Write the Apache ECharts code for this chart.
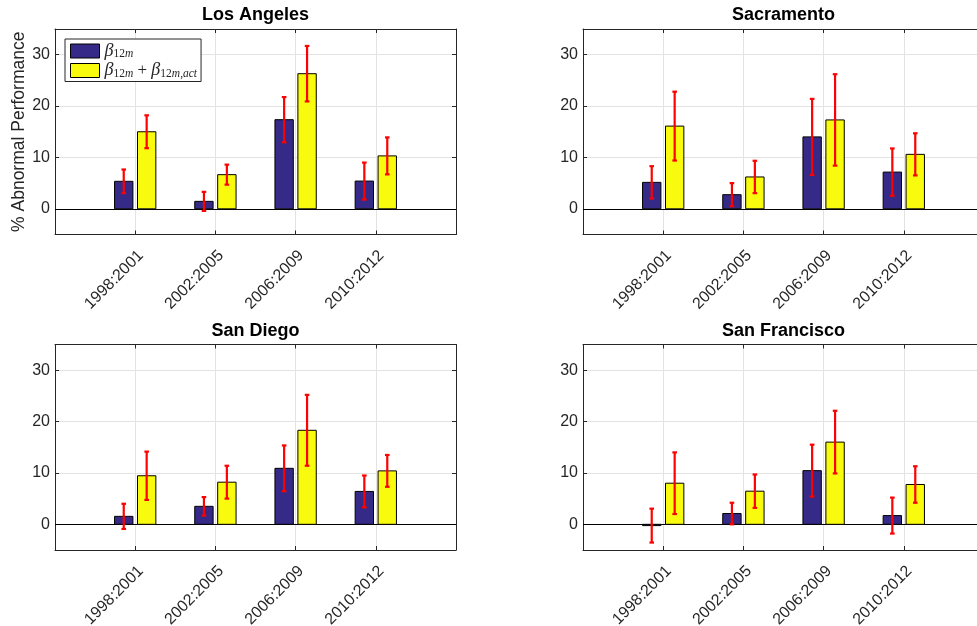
<!DOCTYPE html>
<html><head><meta charset="utf-8">
<script src="https://cdn.jsdelivr.net/npm/echarts@6/dist/echarts.min.js"></script>
<style>html,body{margin:0;padding:0;background:#fff}#c{width:977px;height:626px}</style>
</head><body><div id="c"></div>
<script>
// ---- data ----
const categories = ['1998:2001', '2002:2005', '2006:2009', '2010:2012'];
const cities = ['Los Angeles', 'Sacramento', 'San Diego', 'San Francisco'];
const yTicks = [0, 10, 20, 30];
const seriesNames = ['b12m', 'b12mAct'];

const laBeta       = [5.35, 1.45, 17.35, 5.4];
const laBetaErr    = [2.3, 1.85, 4.4, 3.6];
const laBetaAct    = [15.0, 6.65, 26.3, 10.3];
const laBetaActErr = [3.2, 1.95, 5.4, 3.6];

const sacBeta       = [5.15, 2.75, 14.0, 7.15];
const sacBetaErr    = [3.15, 2.25, 7.4, 4.6];
const sacBetaAct    = [16.1, 6.2, 17.3, 10.6];
const sacBetaActErr = [6.7, 3.15, 8.9, 4.1];

const sdBeta       = [1.55, 3.5, 10.9, 6.4];
const sdBetaErr    = [2.45, 1.8, 4.45, 3.1];
const sdBetaAct    = [9.45, 8.2, 18.3, 10.4];
const sdBetaActErr = [4.7, 3.2, 6.9, 3.1];

const sfBeta       = [-0.25, 2.1, 10.45, 1.7];
const sfBetaErr    = [3.3, 2.1, 5.05, 3.5];
const sfBetaAct    = [8.0, 6.45, 16.0, 7.75];
const sfBetaActErr = [6.0, 3.25, 6.1, 3.55];

const panels = [
  [laBeta, laBetaErr, laBetaAct, laBetaActErr],
  [sacBeta, sacBetaErr, sacBetaAct, sacBetaActErr],
  [sdBeta, sdBetaErr, sdBetaAct, sdBetaActErr],
  [sfBeta, sfBetaErr, sfBetaAct, sfBetaActErr]
];

// ---- styling / layout ----
const BLUE = '#352a87', YELLOW = '#f9fb0e', AX = '#262626', GRIDC = '#e3e3e3';
const FONT = 'Liberation Sans, Arial, sans-serif';
const gridPos = [
  {left: 55, top: 29},
  {left: 583, top: 29},
  {left: 55, top: 344.5},
  {left: 583, top: 344.5}
];
const GW = 401, GH = 205.5;
const OFF = 0.143, BW = 0.229;
const catIdx = categories.map((c, i) => i + 1);

const chart = echarts.init(document.getElementById('c'), null, {renderer: 'canvas'});

const grids = [], xAxes = [], yAxes = [], series = [], titles = [];
gridPos.forEach((g, k) => {
  grids.push({left: g.left, top: g.top, width: GW, height: GH, containLabel: false,
    outerBoundsMode: 'none', show: false});
  titles.push({text: cities[k], left: g.left + GW / 2, top: g.top - 22.5, textAlign: 'center', padding: 0,
    textStyle: {fontFamily: FONT, fontWeight: 'bold', fontSize: 18, color: '#000'}});
  // bottom x axis
  xAxes.push({type: 'value', gridIndex: k, min: 0, max: 5, position: 'bottom',
    axisLine: {show: true, onZero: false, lineStyle: {color: AX, width: 1}},
    axisTick: {show: true, inside: true, length: 4, customValues: catIdx, lineStyle: {color: AX}},
    axisLabel: {show: true, customValues: catIdx, rotate: 45, margin: 13, verticalAlign: 'top',
      formatter: v => categories[Math.round(v) - 1] || '',
      fontFamily: FONT, fontSize: 16, color: AX},
    splitLine: {show: true, lineStyle: {color: GRIDC, width: 1}}});
  // top x axis (box)
  xAxes.push({type: 'value', gridIndex: k, min: 0, max: 5, position: 'top',
    axisLine: {show: true, onZero: false, lineStyle: {color: AX, width: 1}},
    axisTick: {show: true, inside: true, length: 4, customValues: catIdx, lineStyle: {color: AX}},
    axisLabel: {show: false}, splitLine: {show: false}});
  // left y axis
  yAxes.push({type: 'value', gridIndex: k, min: -5, max: 35, position: 'left',
    name: k === 0 ? '% Abnormal Performance' : '', nameLocation: 'middle', nameGap: 27,
    nameTextStyle: {fontFamily: FONT, fontSize: 17.5, color: AX},
    axisLine: {show: true, onZero: false, lineStyle: {color: AX, width: 1}},
    axisTick: {show: true, inside: true, length: 4, customValues: yTicks, lineStyle: {color: AX}},
    axisLabel: {show: true, customValues: yTicks, margin: 5, fontFamily: FONT, fontSize: 16, color: AX},
    splitLine: {show: true, lineStyle: {color: GRIDC, width: 1}}});
  // right y axis (box)
  yAxes.push({type: 'value', gridIndex: k, min: -5, max: 35, position: 'right',
    axisLine: {show: true, onZero: false, lineStyle: {color: AX, width: 1}},
    axisTick: {show: true, inside: true, length: 4, customValues: yTicks, lineStyle: {color: AX}},
    axisLabel: {show: false}, splitLine: {show: false}});

  const [b, be, a, ae] = panels[k];
  const groups = [[b, be, -OFF, BLUE, seriesNames[0]], [a, ae, OFF, YELLOW, seriesNames[1]]];
  groups.forEach(([vals, errs, off, col, nm], gi) => {
    const data = catIdx.map((x, i) => [x, vals[i], errs[i]]);
    series.push({
      type: 'custom', name: nm, xAxisIndex: 2 * k, yAxisIndex: 2 * k, z: 3,
      itemStyle: {color: col, borderColor: '#000', borderWidth: 1},
      data: data, silent: true,
      renderItem: function (params, api) {
        const x = api.value(0), y = api.value(1);
        const p1 = api.coord([x + off - BW / 2, y]);
        const p2 = api.coord([x + off + BW / 2, 0]);
        return {type: 'rect',
          shape: {x: p1[0], y: Math.min(p1[1], p2[1]), width: p2[0] - p1[0], height: Math.max(Math.abs(p2[1] - p1[1]), 0.8)},
          style: {fill: col, stroke: '#000', lineWidth: 1}};
      },
      markLine: gi === 0 ? {silent: true, symbol: 'none', label: {show: false},
        lineStyle: {color: '#000', width: 1, type: 'solid'}, data: [{yAxis: 0}], z: 2} : undefined
    });
    series.push({
      type: 'custom', name: nm + '_err', xAxisIndex: 2 * k, yAxisIndex: 2 * k, z: 5,
      data: data, silent: true,
      renderItem: function (params, api) {
        const x = api.value(0) + off, y = api.value(1), e = api.value(2);
        const top = api.coord([x, y + e]), bot = api.coord([x, y - e]);
        const cw = 2.3;
        const st = {stroke: '#ff0000', lineWidth: 2.2};
        return {type: 'group', children: [
          {type: 'line', shape: {x1: top[0], y1: top[1], x2: bot[0], y2: bot[1]}, style: st},
          {type: 'line', shape: {x1: top[0] - cw, y1: top[1], x2: top[0] + cw, y2: top[1]}, style: st},
          {type: 'line', shape: {x1: bot[0] - cw, y1: bot[1], x2: bot[0] + cw, y2: bot[1]}, style: st}
        ]};
      }
    });
  });
});

const legendFormatter = function (name) {
  if (name === seriesNames[0]) return '{b|β}{s|12}{si|m}';
  return '{b|β}{s|12}{si|m}{p| + }{b|β}{s|12}{si|m}{s|,}{si|act}';
};

const option = {
  backgroundColor: '#ffffff',
  animation: false,
  title: titles,
  grid: grids,
  xAxis: xAxes,
  yAxis: yAxes,
  legend: {
    show: true, orient: 'vertical', left: 65, top: 39,
    padding: [3, 4, 2, 5], itemGap: 1.5, itemWidth: 29, itemHeight: 14,
    backgroundColor: '#fff', borderColor: AX, borderWidth: 1, borderRadius: 0,
    selectedMode: false,
    data: [
      {name: seriesNames[0], icon: 'rect', itemStyle: {color: BLUE, borderColor: '#000', borderWidth: 1}},
      {name: seriesNames[1], icon: 'rect', itemStyle: {color: YELLOW, borderColor: '#000', borderWidth: 1}}
    ],
    formatter: legendFormatter,
    textStyle: {
      color: AX,
      rich: {
        b: {fontFamily: 'Liberation Serif, DejaVu Serif, serif', fontStyle: 'italic', fontSize: 18, color: AX, lineHeight: 18, verticalAlign: 'middle'},
        s: {fontFamily: 'Liberation Serif, DejaVu Serif, serif', fontSize: 11.5, color: AX, lineHeight: 18, verticalAlign: 'bottom'},
        si: {fontFamily: 'Liberation Serif, DejaVu Serif, serif', fontStyle: 'italic', fontSize: 11.5, color: AX, lineHeight: 18, verticalAlign: 'bottom'},
        p: {fontFamily: 'Liberation Serif, DejaVu Serif, serif', fontSize: 17, color: AX, lineHeight: 18, verticalAlign: 'middle'}
      }
    }
  },
  series: series
};
chart.setOption(option);
</script>
</body></html>
